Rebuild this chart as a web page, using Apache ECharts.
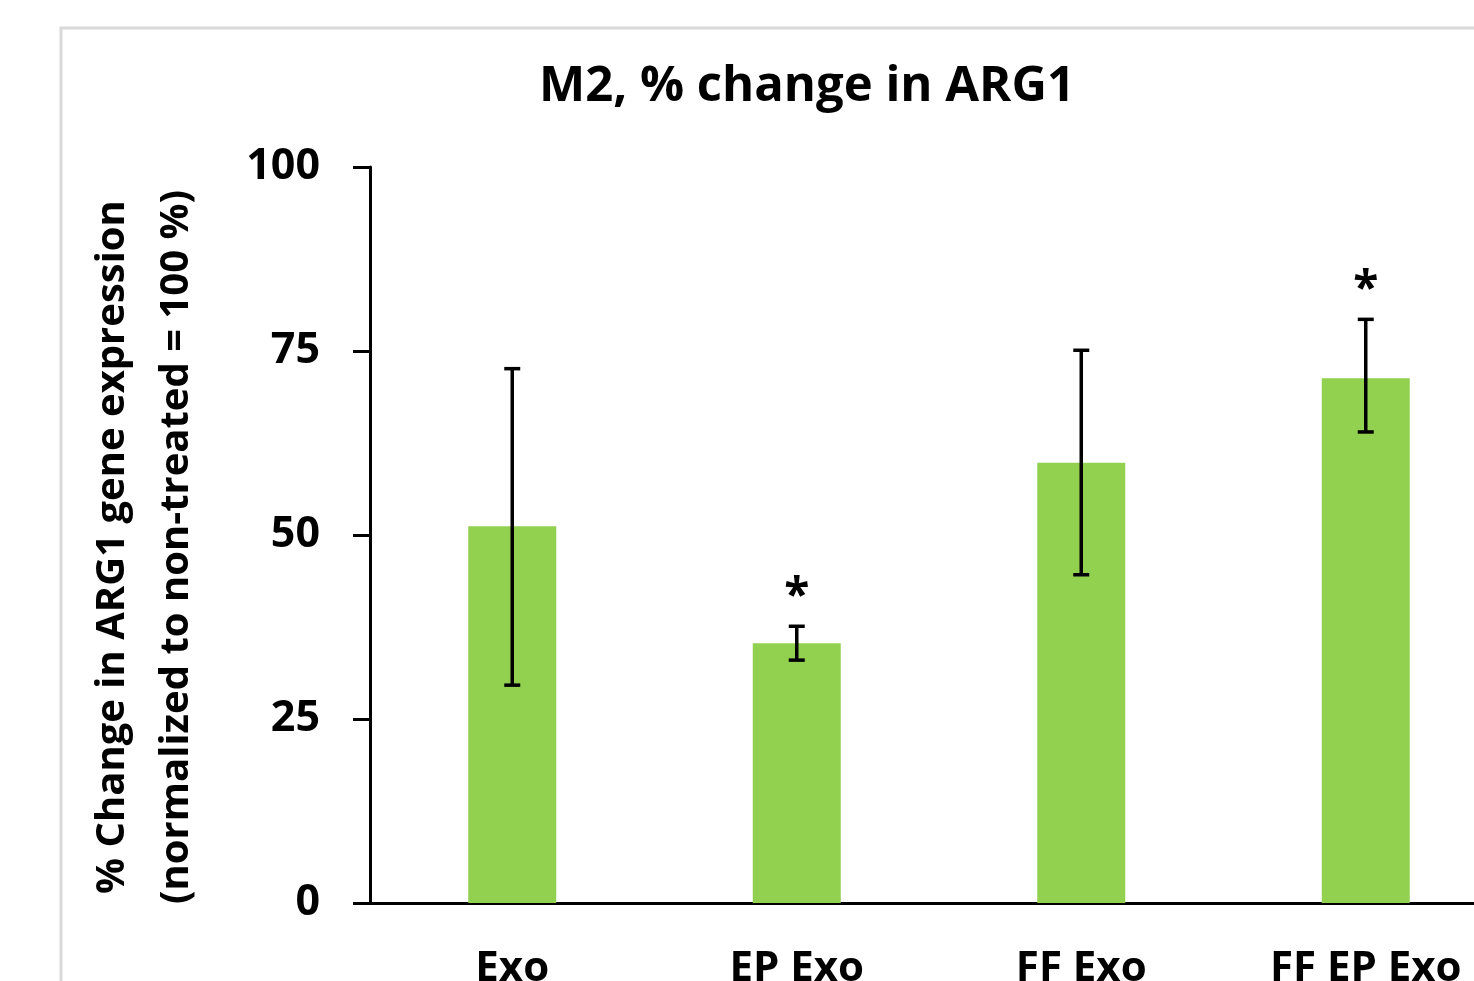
<!DOCTYPE html>
<html>
<head>
<meta charset="utf-8">
<script src="https://cdn.jsdelivr.net/npm/echarts@6/dist/echarts.min.js"></script>
<style>
html,body{margin:0;padding:0;background:#fff;}
#chart{width:1474px;height:981px;}
</style>
</head>
<body>
<div id="chart"></div>
<script>
const categories = ['Exo', 'EP Exo', 'FF Exo', 'FF EP Exo'];
const values = [51.2, 35.3, 59.8, 71.3];
const errLow = [29.6, 33.0, 44.6, 64.0];
const errHigh = [72.6, 37.6, 75.1, 79.3];
const marks = ['', '*', '', '*'];
const yTicks = [0, 25, 50, 75, 100];

const FONT = '"Open Sans"';
const chart = echarts.init(document.getElementById('chart'), null, {renderer: 'canvas'});

const option = {
  backgroundColor: '#fff',
  animation: false,
  title: {
    text: 'M2, % change in ARG1',
    left: 802, top: 58, textAlign: 'center',
    textStyle: {fontFamily: FONT, fontWeight: 'bold', fontSize: 49, color: '#000'}
  },
  graphic: [{
    type: 'rect', shape: {x: 61, y: 28, width: 1500, height: 1000},
    style: {fill: 'none', stroke: '#d9d9d9', lineWidth: 3}, z: -1
  }],
  grid: {left: 370, top: 167, width: 1138, height: 736, outerBoundsMode: 'none', containLabel: false},
  xAxis: {
    type: 'category', data: categories,
    axisLine: {lineStyle: {color: '#000', width: 3}},
    axisTick: {show: false},
    axisLabel: {color: '#000', fontFamily: FONT, fontWeight: 'bold', fontSize: 42, margin: 45, interval: 0}
  },
  yAxis: {
    type: 'value', min: yTicks[0], max: yTicks[yTicks.length - 1], interval: 25,
    name: '% Change in ARG1 gene expression\n(normalized to non-treated = 100 %)',
    nameLocation: 'middle', nameRotate: 90, nameGap: 161,
    nameTextStyle: {color: '#000', fontFamily: FONT, fontWeight: 'bold', fontSize: 40, lineHeight: 64, padding: [0, 24, 0, 0]},
    axisLine: {show: true, lineStyle: {color: '#000', width: 3}},
    axisTick: {show: true, length: 17, lineStyle: {color: '#000', width: 3}},
    splitLine: {show: false},
    axisLabel: {color: '#000', fontFamily: FONT, fontWeight: 'bold', fontSize: 43, margin: 50}
  },
  series: [{
    type: 'bar', data: values, barWidth: 88,
    itemStyle: {color: '#92d050'}
  }, {
    type: 'custom',
    data: categories.map((c, i) => [i, errLow[i], errHigh[i]]),
    encode: {x: 0, y: [1, 2]},
    renderItem: function (params, api) {
      const i = api.value(0);
      const lo = api.coord([i, api.value(1)]);
      const hi = api.coord([i, api.value(2)]);
      const hw = 8;
      const st = {stroke: '#000', lineWidth: 3.5, fill: 'none'};
      const children = [
        {type: 'line', shape: {x1: lo[0], y1: lo[1], x2: hi[0], y2: hi[1]}, style: st},
        {type: 'line', shape: {x1: hi[0] - hw, y1: hi[1], x2: hi[0] + hw, y2: hi[1]}, style: st},
        {type: 'line', shape: {x1: lo[0] - hw, y1: lo[1], x2: lo[0] + hw, y2: lo[1]}, style: st}
      ];
      const m = marks[params.dataIndex];
      if (m) {
        children.push({type: 'text', style: {
          text: m, x: hi[0], y: hi[1] - 28, align: 'center', verticalAlign: 'middle',
          fill: '#000', font: 'bold 46px ' + FONT
        }});
      }
      return {type: 'group', children: children};
    },
    z: 5
  }]
};
chart.setOption(option);
</script>
</body>
</html>
